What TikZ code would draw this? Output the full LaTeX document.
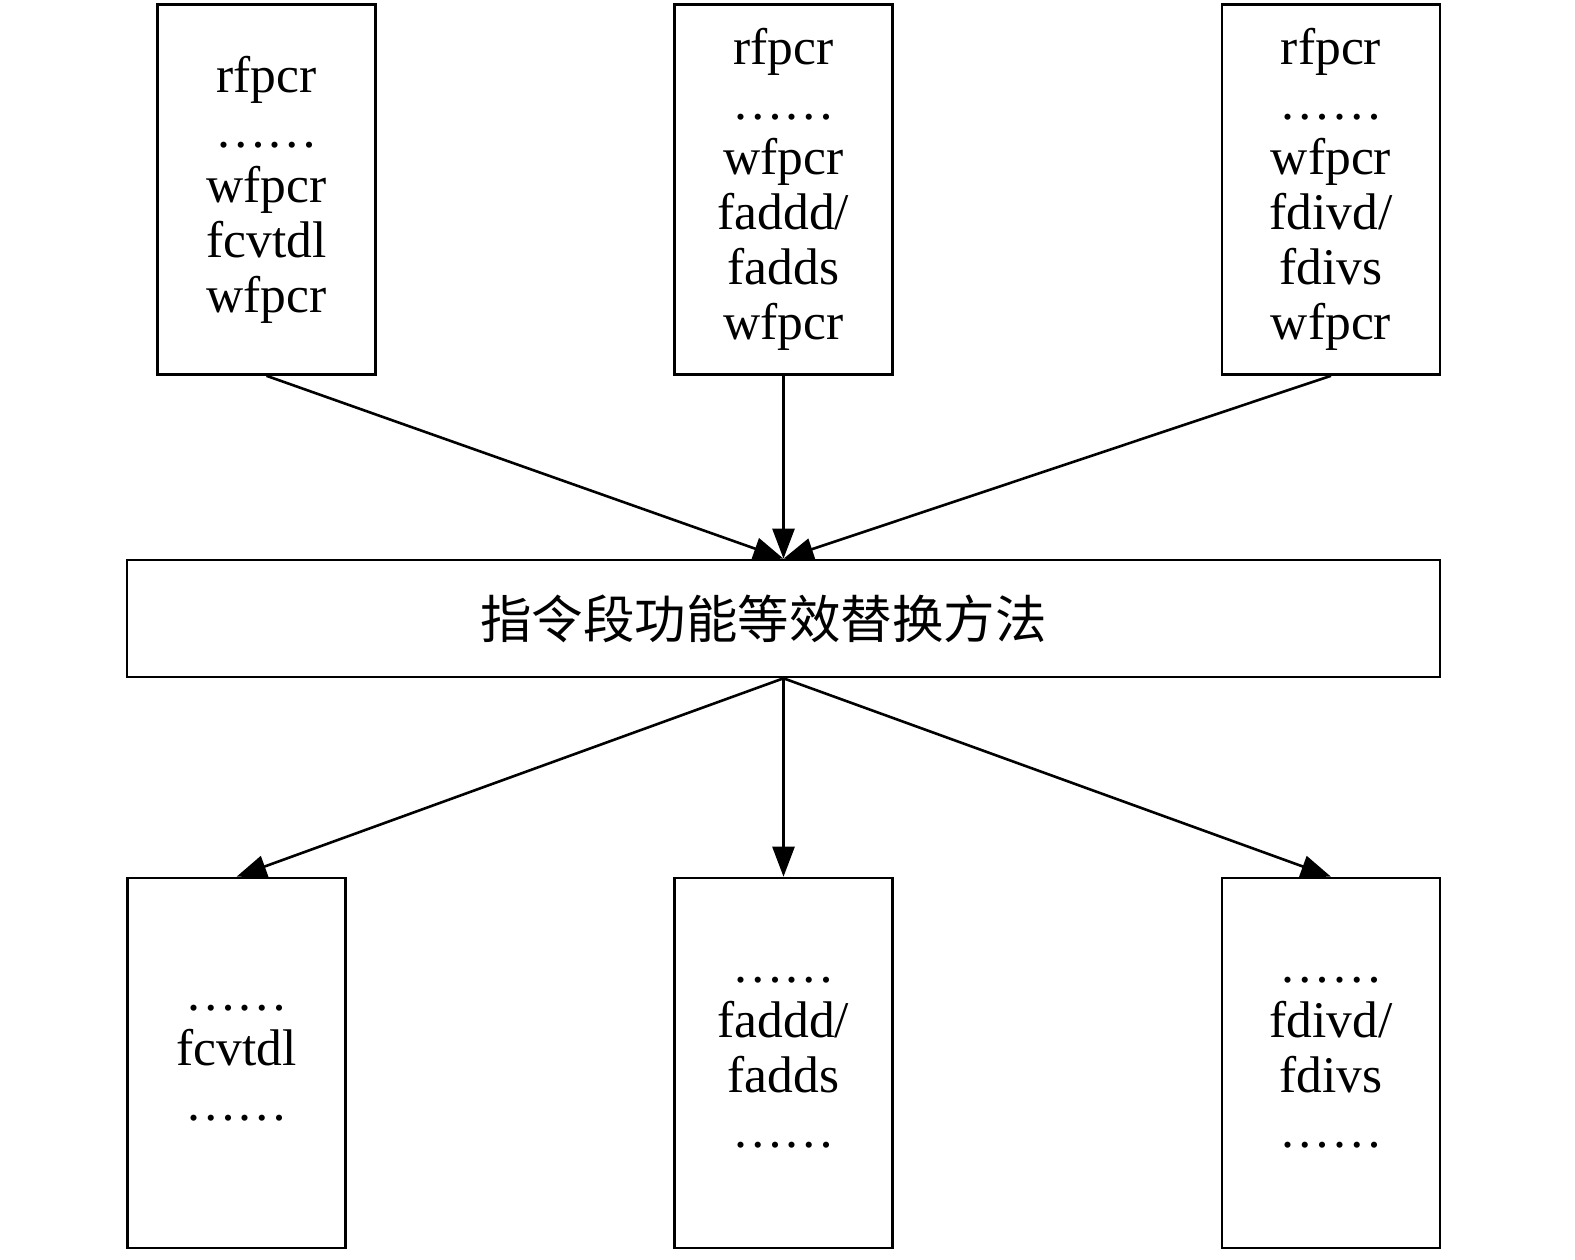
\documentclass[tikz,border=0pt]{standalone}
\usepackage{fontspec}
\setmainfont{Liberation Serif}
\newfontfamily\cjk{Noto Sans CJK SC}
\usetikzlibrary{arrows.meta}
\begin{document}
\begin{tikzpicture}[x=0.5pt,y=-0.5pt,
  box/.style={draw,line width=1.3pt,minimum width=109pt,minimum height=185pt,inner sep=0pt,
    align=center,font=\fontsize{25.75}{27.5}\selectfont},
  arr/.style={line width=1.3pt,-{Triangle[length=15pt,width=11pt]}}]
\useasboundingbox (0,0) rectangle (1575,1259);
\node[box] (tl) at (266.5,189.5) {rfpcr\\……\\wfpcr\\fcvtdl\\wfpcr};
\node[box] (tm) at (783.5,189.5) {rfpcr\\……\\wfpcr\\faddd/\\fadds\\wfpcr};
\node[box] (tr) at (1331,189.5) {rfpcr\\……\\wfpcr\\fdivd/\\fdivs\\wfpcr};
\node[draw,line width=1.3pt,minimum width=656.5pt,minimum height=58.5pt,inner sep=0pt,
  font=\cjk\fontsize{25.75}{27}\selectfont] (m) at (783.5,618.5) {指令段功能等效替换方法\kern20pt};
\node[box] (bl) at (236.5,1063) {……\\fcvtdl\\……};
\node[box] (bm) at (783.5,1063) {……\\faddd/\\fadds\\……};
\node[box] (br) at (1331,1063) {……\\fdivd/\\fdivs\\……};
\draw[arr] (tl.south) -- (m.north);
\draw[arr] (tm.south) -- (m.north);
\draw[arr] (tr.south) -- (m.north);
\draw[arr] (m.south) -- (bl.north);
\draw[arr] (m.south) -- (bm.north);
\draw[arr] (m.south) -- (br.north);
\end{tikzpicture}
\end{document}
